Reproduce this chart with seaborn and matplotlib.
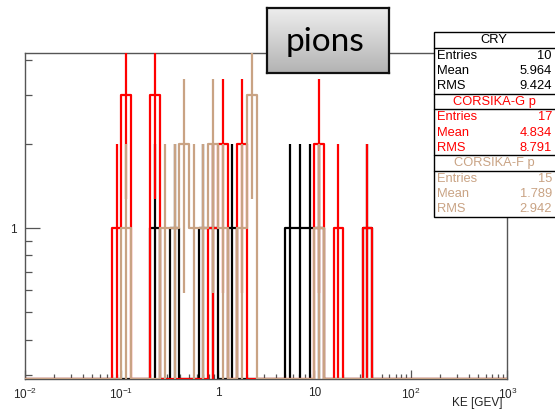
import numpy as np
import pandas as pd
import matplotlib
matplotlib.use("Agg")
import matplotlib.pyplot as plt
import seaborn as sns
from matplotlib.patches import Rectangle
from matplotlib.lines import Line2D
from matplotlib.ticker import FixedLocator, NullFormatter

# ---------------- data ----------------
log_lo, log_hi, n_bins = -2.0, 3.0, 50          # KE axis: 10^-2 .. 10^3 GeV, 0.1-decade bins
cry_bins = [13, 15, 18, 19, 21, 27, 28, 29, 30, 35]
cry_counts = [1, 1, 1, 1, 1, 1, 1, 1, 1, 1]
corg_bins = [9, 10, 13, 19, 20, 22, 30, 32, 35]
corg_counts = [1, 3, 3, 1, 2, 2, 2, 1, 1]
corf_bins = [10, 14, 15, 16, 17, 18, 19, 20, 22, 23, 30]
corf_counts = [1, 1, 1, 2, 1, 1, 2, 1, 1, 3, 1]

series_names = ["CRY", "CORSIKA-G p", "CORSIKA-F p"]
stat_entries = ["10", "17", "15"]
stat_means = ["5.964", "4.834", "1.789"]
stat_rms = ["9.424", "8.791", "2.942"]

xtick_vals = [1e-2, 1e-1, 1, 10, 1e2, 1e3]
xtick_labels = ["$10^{-2}$", "$10^{-1}$", "1", "10", "$10^{2}$", "$10^{3}$"]
ytick_vals = [1]
ytick_labels = ["1"]
x_title = "KE [GEV]"
box_title = "pions"

# ---------------- style ----------------
sns.set_theme(style="white")
plt.rcParams["font.family"] = ["Liberation Sans", "DejaVu Sans"]
plt.rcParams["mathtext.fontset"] = "custom"
plt.rcParams["mathtext.rm"] = "Liberation Sans"
plt.rcParams["mathtext.it"] = "Liberation Sans:italic"
plt.rcParams["mathtext.bf"] = "Liberation Sans:bold"

RED = "#ff0000"
TAN = "#c9a384"
BLK = "#000000"
FRAME = "#555555"

W, H = 555, 409
fig = plt.figure(figsize=(W / 100, H / 100), dpi=100)
fig.patch.set_facecolor("white")

def fx(px):
    return px / W

def fy(py):
    return 1 - py / H

x0, x1, y0, y1 = 25, 507.3, 52.7, 378.7
ax = fig.add_axes([fx(x0), fy(y1), fx(x1) - fx(x0), fy(y0) - fy(y1)])

ymin, ymax = 0.29, 4.24
edges = 10 ** np.linspace(log_lo, log_hi, n_bins + 1)
centers = 10 ** ((np.log10(edges[:-1]) + np.log10(edges[1:])) / 2)


def full_counts(bins, counts):
    c = np.zeros(n_bins)
    for b, v in zip(bins, counts):
        c[b] = v
    return c


def draw_hist(bins, counts, color, z):
    c = full_counts(bins, counts)
    yv = np.where(c > 0, c, ymin)
    df = pd.DataFrame({"KE": edges, "n": np.append(yv, yv[-1])})
    sns.lineplot(data=df, x="KE", y="n", drawstyle="steps-post", color=color,
                 lw=1.6, ax=ax, zorder=z, estimator=None, sort=False)
    nz = c > 0
    err = np.sqrt(c[nz])
    lo = np.maximum(c[nz] - err, ymin * 0.5)
    hi = c[nz] + err
    ax.vlines(centers[nz], lo, hi, color=color, lw=1.6, zorder=z)


draw_hist(cry_bins, cry_counts, BLK, 2)
draw_hist(corg_bins, corg_counts, RED, 3)
draw_hist(corf_bins, corf_counts, TAN, 4)

ax.set_xscale("log")
ax.set_yscale("log")
ax.set_xlim(edges[0], edges[-1])
ax.set_ylim(ymin, ymax)
ax.set_xlabel("")
ax.set_ylabel("")

# ticks (ROOT-like: inside, bottom/left only)
ax.xaxis.set_major_locator(FixedLocator(xtick_vals))
ax.set_xticklabels(xtick_labels)
xminor = [m * 10.0 ** d for d in range(-2, 3) for m in range(2, 10)]
ax.xaxis.set_minor_locator(FixedLocator(xminor))
ax.xaxis.set_minor_formatter(NullFormatter())
ax.yaxis.set_major_locator(FixedLocator(ytick_vals))
ax.set_yticklabels(ytick_labels)
yminor = [0.3, 0.4, 0.5, 0.6, 0.7, 0.8, 0.9, 2, 3, 4]
ax.yaxis.set_minor_locator(FixedLocator(yminor))
ax.yaxis.set_minor_formatter(NullFormatter())
ax.tick_params(axis="x", which="major", direction="in", length=6.5, width=0.9,
               color=FRAME, labelsize=8.5, pad=6, bottom=True, top=False)
ax.tick_params(axis="x", which="minor", direction="in", length=3.3, width=0.9,
               color=FRAME, bottom=True, top=False)
ax.tick_params(axis="y", which="major", direction="in", length=11, width=0.9,
               color=FRAME, labelsize=8.5, pad=6, left=True, right=False)
ax.tick_params(axis="y", which="minor", direction="in", length=5.3, width=0.9,
               color=FRAME, left=True, right=False)
for s in ax.spines.values():
    s.set_color(FRAME)
    s.set_linewidth(1.0)
ax.grid(False)

# axis title
fig.text(fx(503), fy(403), x_title, ha="right", va="center", fontsize=8.5, color="#222222")

# ---------------- "pions" box with gradient ----------------
bx0, bx1, by0, by1 = 266.5, 388.5, 7.5, 72.5
gax = fig.add_axes([fx(bx0), fy(by1), fx(bx1) - fx(bx0), fy(by0) - fy(by1)])
grad = np.linspace(0, 1, 100).reshape(-1, 1)
gax.imshow(grad, aspect="auto", cmap=matplotlib.colors.LinearSegmentedColormap.from_list(
    "g", ["#eeeeee", "#b4b4b4"]), extent=[0, 1, 0, 1], origin="upper")
gax.set_xticks([])
gax.set_yticks([])
for s in gax.spines.values():
    s.set_color("#111111")
    s.set_linewidth(1.6)
gax.text(0.48, 0.47, box_title, ha="center", va="center", fontsize=24,
         family=["Lato", "DejaVu Sans"], color="black", transform=gax.transAxes)

# ---------------- stats box ----------------
sx0, sx1, sy0, sy1 = 433.5, 600, 32.3, 216.7
fig.patches.append(Rectangle((fx(sx0), fy(sy1)), fx(sx1) - fx(sx0), fy(sy0) - fy(sy1),
                             transform=fig.transFigure, facecolor="white",
                             edgecolor="black", lw=1.0, zorder=10))
sep_lines = [48.3, 94.0, 109.3, 155.0, 170.7]
for yy in sep_lines:
    fig.lines.append(Line2D([fx(sx0), fx(sx1)], [fy(yy), fy(yy)], transform=fig.transFigure,
                            color="black", lw=1.0, zorder=11))

header_y = [40.3, 101.5, 163.0]
row_y = [[56.3, 71.3, 86.3], [117.0, 132.5, 147.8], [178.5, 193.8, 209.0]]
colors = [BLK, RED, TAN]
for k in range(3):
    fig.text(fx(494), fy(header_y[k]), series_names[k], ha="center", va="center",
             fontsize=9.3, color=colors[k], zorder=12)
    labels = ["Entries", "Mean", "RMS"]
    vals = [stat_entries[k], stat_means[k], stat_rms[k]]
    for r in range(3):
        fig.text(fx(437), fy(row_y[k][r]), labels[r], ha="left", va="center",
                 fontsize=9.3, color=colors[k], zorder=12)
        fig.text(fx(552), fy(row_y[k][r]), vals[r], ha="right", va="center",
                 fontsize=9.3, color=colors[k], zorder=12)

fig.savefig("out.png", dpi=100)
